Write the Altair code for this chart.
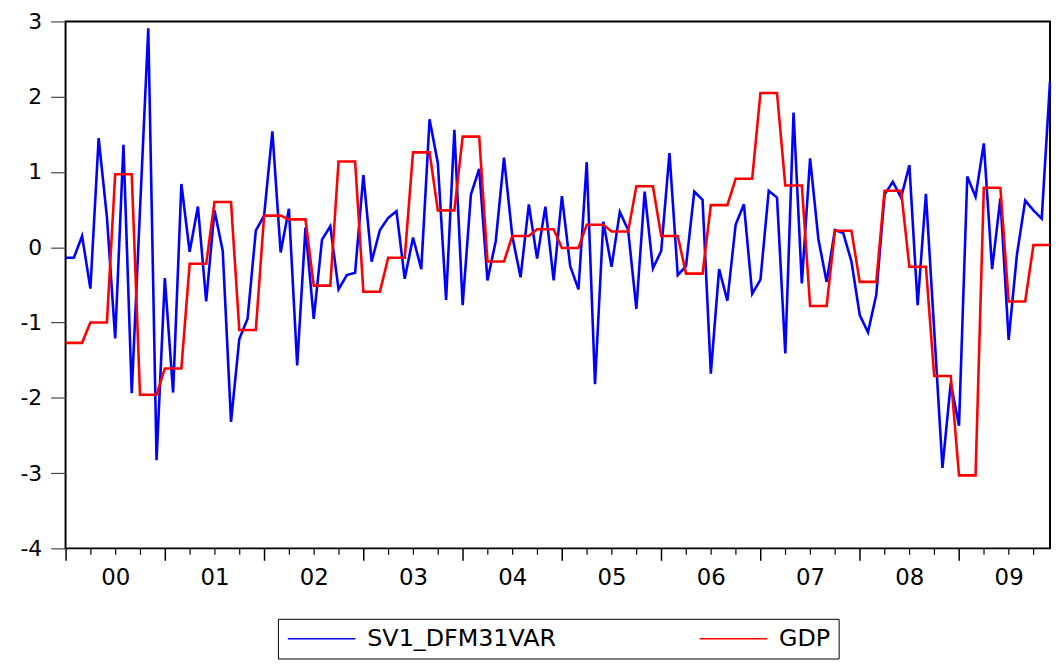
import altair as alt
import pandas as pd

# Monthly series (Jan 2000 - Dec 2009)
SV1_DFM31VAR = [
    -0.14, -0.14, 0.15, -0.55, 1.45, 0.40, -1.21, 1.36, -1.94, 0.50, 2.91, -2.83,
    -0.41, -1.93, 0.84, -0.06, 0.54, -0.72, 0.49, -0.05, -2.32, -1.22, -0.95, 0.22,
    0.42, 1.54, -0.07, 0.51, -1.57, 0.26, -0.95, 0.10, 0.28, -0.56, -0.37, -0.34,
    0.96, -0.19, 0.23, 0.39, 0.48, -0.42, 0.13, -0.29, 1.70, 1.12, -0.70, 1.56,
    -0.77, 0.70, 1.04, -0.44, 0.08, 1.19, 0.15, -0.40, 0.57, -0.15, 0.54, -0.44,
    0.68, -0.25, -0.56, 1.13, -1.82, 0.34, -0.26, 0.47, 0.23, -0.82, 0.74, -0.28,
    -0.05, 1.25, -0.37, -0.25, 0.74, 0.63, -1.68, -0.29, -0.71, 0.30, 0.57, -0.62,
    -0.43, 0.75, 0.66, -1.41, 1.79, -0.48, 1.18, 0.11, -0.46, 0.23, 0.19, -0.19,
    -0.90, -1.13, -0.63, 0.70, 0.87, 0.66, 1.09, -0.77, 0.71, -1.10, -2.93, -1.80,
    -2.37, 0.94, 0.67, 1.38, -0.29, 0.65, -1.23, -0.10, 0.62, 0.49, 0.38, 2.20,
]

# Quarterly GDP (2000Q1 - 2009Q4), shown at monthly frequency
GDP_QUARTERLY = [
    -1.27, -1.00, 0.97, -1.96, -1.61, -0.22, 0.60, -1.10, 0.42, 0.37,
    -0.51, 1.14, -0.59, -0.14, 1.26, 0.49, 1.47, -0.19, 0.15, 0.24,
    -0.01, 0.30, 0.21, 0.81, 0.15, -0.35, 0.56, 0.91, 2.05, 0.82,
    -0.78, 0.22, -0.46, 0.75, -0.26, -1.71, -3.03, 0.79, -0.72, 0.03,
]

YEAR_LABELS = ["00", "01", "02", "03", "04", "05", "06", "07", "08", "09"]
Y_TICKS = [-4, -3, -2, -1, 0, 1, 2, 3]
SERIES = ["SV1_DFM31VAR", "GDP"]
COLORS = ["#0000FF", "#FF0000"]

months = list(range(len(SV1_DFM31VAR)))
gdp_monthly = [GDP_QUARTERLY[m // 3] for m in months]

df_sv = pd.DataFrame({"t": months, "v": SV1_DFM31VAR, "series": SERIES[0]})
df_gdp = pd.DataFrame({"t": months, "v": gdp_monthly, "series": SERIES[1]})

FONT = "DejaVu Sans"

xscale = alt.Scale(domain=[0, len(months) - 1], nice=False, zero=False)
yscale = alt.Scale(domain=[-4, 3], nice=False, zero=False)

# long horizontal stroke symbol: unit box [-1,1] scaled to 20px -> line 68px long
legend = alt.Legend(
    title=None, orient="none", legendX=214, legendY=602, direction="horizontal",
    strokeColor="black", fillColor="white", padding=8,
    symbolType="M-1,0H5.8", symbolSize=400, symbolStrokeWidth=1.6,
    symbolFillColor="transparent",
    labelFont=FONT, labelFontSize=24, labelColor="black", labelLimit=400,
    labelOffset=58, columnPadding=140,
)
color = alt.Color(
    "series:N",
    scale=alt.Scale(domain=SERIES, range=COLORS),
    legend=legend,
)

major_axis = alt.Axis(
    orient="bottom",
    values=[12 * k for k in range(len(YEAR_LABELS))], labels=False,
    tickSize=12, tickColor="black", tickWidth=1.5, domain=False, grid=False, title=None,
)
minor_axis = alt.Axis(
    orient="bottom",
    values=[m for m in range(3, len(months), 3) if m % 12 != 0], labels=False,
    tickSize=6, tickColor="black", tickWidth=1.2, domain=False, grid=False, title=None,
)
label_expr = "[" + ",".join("'%s'" % s for s in YEAR_LABELS) + "][floor(datum.value / 12)]"
label_axis = alt.Axis(
    orient="bottom",
    values=[12 * k + 6 for k in range(len(YEAR_LABELS))], ticks=False,
    labelExpr=label_expr, labelFont=FONT, labelFontSize=23, labelColor="black",
    labelPadding=18, domain=False, grid=False, title=None,
)
y_axis = alt.Axis(
    orient="left",
    values=Y_TICKS, tickSize=15, tickColor="#444444", tickWidth=1.2,
    labelExpr="'' + datum.value",
    labelFont=FONT, labelFontSize=22, labelColor="black", labelPadding=9,
    domain=False, grid=False, title=None,
)

blue = alt.Chart(df_sv).mark_line(strokeWidth=2.6).encode(
    x=alt.X("t:Q", scale=xscale, axis=major_axis),
    y=alt.Y("v:Q", scale=yscale, axis=y_axis),
    color=color,
)
red = alt.Chart(df_gdp).mark_line(strokeWidth=2.6).encode(
    x=alt.X("t:Q", scale=xscale, axis=minor_axis),
    y=alt.Y("v:Q", scale=yscale, axis=None),
    color=color,
)
labels_layer = alt.Chart(df_sv).mark_point(opacity=0).encode(
    x=alt.X("t:Q", scale=xscale, axis=label_axis),
    y=alt.Y("v:Q", scale=yscale, axis=None),
)

chart = (
    alt.layer(blue, red, labels_layer)
    .resolve_axis(x="independent", y="independent")
    .properties(
        width=992, height=531,
        padding={"left": 58, "top": 11, "right": 1, "bottom": 114},
        autosize=alt.AutoSizeParams(type="none"),
        background="white",
    )
    .configure_view(stroke="black", strokeWidth=2)
)

chart.save("out.html", embed_options={"renderer": "svg", "actions": False})
